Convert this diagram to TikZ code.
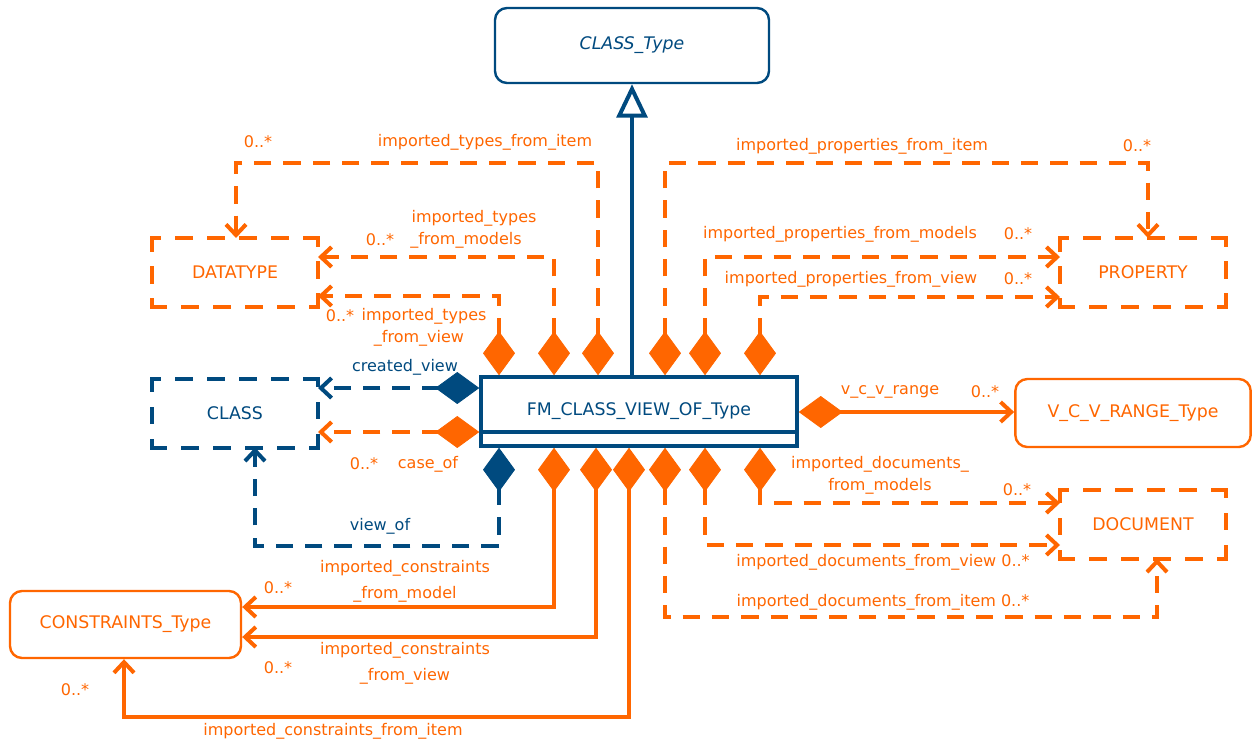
\documentclass[tikz,border=0pt]{standalone}
\usepackage{fontspec}
\setmainfont{DejaVu Sans}
\usetikzlibrary{arrows.meta}
\definecolor{umlorange}{RGB}{255,102,0}
\definecolor{umlblue}{RGB}{0,74,127}
\begin{document}
\begin{tikzpicture}[x=0.75pt,y=-0.75pt,
  font=\fontsize{12}{14}\selectfont,
  every node/.style={inner sep=0pt},
  boxfont/.style={font=\fontsize{13}{15}\selectfont},
  % boxes
  rbox/.style={boxfont, draw, rounded corners=9pt, line width=1.8pt},
  obox/.style={draw=umlorange, text=umlorange},
  bbox/.style={draw=umlblue, text=umlblue},
  dside/.style={line width=3pt, line cap=rect, dash pattern=on 10pt off 14pt, dash phase=5pt},
  dbox/.style={boxfont, text=#1, minimum width=124.5pt, minimum height=51.75pt, outer sep=0pt,
    append after command={
      (\tikzlastnode.north west) edge[dside, draw=#1] (\tikzlastnode.north east)
      (\tikzlastnode.north east) edge[dside, draw=#1] (\tikzlastnode.south east)
      (\tikzlastnode.south east) edge[dside, draw=#1] (\tikzlastnode.south west)
      (\tikzlastnode.south west) edge[dside, draw=#1] (\tikzlastnode.north west)}},
  % connectors
  oline/.style={draw=umlorange, line width=3pt},
  odash/.style={oline, dash pattern=on 13pt off 9pt},
  bline/.style={draw=umlblue, line width=3pt},
  bdash/.style={bline, dash pattern=on 13pt off 9pt},
  comp/.style={arrows={Diamond[length=33pt,width=24pt,line width=0.6pt,round]-Straight Barb[length=8pt,width=15pt]}},
  gen/.style={arrows={-Triangle[open,length=25pt,width=23pt]}},
  % labels
  olab/.style={text=umlorange},
  blab/.style={text=umlblue}
]
\fill[white] (0,0) rectangle (1252,742);
\useasboundingbox (0,0) rectangle (1252,742);

% classes
\node[rbox, bbox, minimum width=205.5pt, minimum height=56.25pt, font=\fontsize{13}{15}\selectfont\itshape]
  (ct) at (632,45.5) {CLASS\_Type};
\node[boxfont, draw=umlblue, text=umlblue, line width=3pt, minimum width=237pt, minimum height=51.75pt]
  (fm) at (639,411.5) {FM\_CLASS\_VIEW\_OF\_Type};
\draw[bline] (fm.west |- 0,432) -- (fm.east |- 0,432);

\node[dbox=umlorange] (dt)  at (235,272.5) {DATATYPE};
\node[dbox=umlorange] (pr)  at (1143,272.5) {PROPERTY};
\node[dbox=umlblue]   (cl)  at (235,413) {CLASS};
\node[dbox=umlorange] (doc) at (1143,524) {DOCUMENT};
\node[rbox, obox, minimum width=176.5pt, minimum height=51pt] (vr) at (1133,413) {V\_C\_V\_RANGE\_Type};
\node[rbox, obox, minimum width=173.25pt, minimum height=50.25pt] (cs) at (125.5,624.5) {CONSTRAINTS\_Type};

% generalisation
\draw[bline, gen] (ct.south |- fm.north) -- (ct.south);

% types
\draw[odash, comp] (598,0 |- fm.north) -- (598,163) -- (236,163) -- (236,0 |- dt.north);
\draw[odash, comp] (554,0 |- fm.north) -- (554,257) -- (dt.east |- 0,257);
\draw[odash, comp] (499,0 |- fm.north) -- (499,296) -- (dt.east |- 0,296);

% properties
\draw[odash, comp] (665,0 |- fm.north) -- (665,163) -- (1148,163) -- (1148,0 |- pr.north);
\draw[odash, comp] (705,0 |- fm.north) -- (705,257) -- (pr.west |- 0,257);
\draw[odash, comp] (760,0 |- fm.north) -- (760,297) -- (pr.west |- 0,297);

% class links
\draw[bdash, comp] (fm.west |- 0,388) -- (cl.east |- 0,388);
\draw[odash, comp] (fm.west |- 0,432) -- (cl.east |- 0,432);
\draw[bdash, comp] (499,0 |- fm.south) -- (499,546) -- (255,546) -- (255,0 |- cl.south);

% range
\draw[oline, comp] (fm.east |- 0,412) -- (vr.west |- 0,412);

% documents
\draw[odash, comp] (760,0 |- fm.south) -- (760,503) -- (doc.west |- 0,503);
\draw[odash, comp] (705,0 |- fm.south) -- (705,545) -- (doc.west |- 0,545);
\draw[odash, comp] (665,0 |- fm.south) -- (665,617) -- (1157,617) -- (1157,0 |- doc.south);

% constraints
\draw[oline, comp] (554,0 |- fm.south) -- (554,607) -- (cs.east |- 0,607);
\draw[oline, comp] (596,0 |- fm.south) -- (596,637) -- (cs.east |- 0,637);
\draw[oline, comp] (629,0 |- fm.south) -- (629,717) -- (124,717) -- (124,0 |- cs.south);

% labels
\node[olab] (m1) at (258,142) {0..*};
\node[olab] (t1) at (485,142) {imported\_types\_from\_item};
\node[olab] (t2) at (474,218) {imported\_types};
\node[olab] (m2) at (380,240) {0..*};
\node[olab] (t3) at (466,240) {\_from\_models};
\node[olab] (m3) at (340,316) {0..*};
\node[olab] (t4) at (424,316) {imported\_types};
\node[olab] (t5) at (419,338) {\_from\_view};

\node[olab] (p1) at (862,146) {imported\_properties\_from\_item};
\node[olab] (m4) at (1137,146) {0..*};
\node[olab] (p2) at (840,234) {imported\_properties\_from\_models};
\node[olab] (m5) at (1018,234) {0..*};
\node[olab] (p3) at (851,279) {imported\_properties\_from\_view};
\node[olab] (m6) at (1018,279) {0..*};

\node[blab] (c1) at (405,367) {created\_view};
\node[olab] (m7) at (364,464) {0..*};
\node[olab] (c2) at (428,464) {case\_of};
\node[blab] (c3) at (380,526) {view\_of};

\node[olab] (r1) at (890,392) {v\_c\_v\_range};
\node[olab] (m8) at (985,392) {0..*};

\node[olab] (d1) at (880,464) {imported\_documents\_};
\node[olab] (d2) at (880,486) {from\_models};
\node[olab] (m9) at (1017,490) {0..*};
\node[olab] (d3) at (883,562) {imported\_documents\_from\_view 0..*};
\node[olab] (d4) at (883,602) {imported\_documents\_from\_item 0..*};

\node[olab] (k1) at (405,568) {imported\_constraints};
\node[olab] (k2) at (405,594) {\_from\_model};
\node[olab] (m10) at (278,588) {0..*};
\node[olab] (k3) at (405,650) {imported\_constraints};
\node[olab] (k4) at (405,676) {\_from\_view};
\node[olab] (m11) at (278,668) {0..*};
\node[olab] (k5) at (333,731) {imported\_constraints\_from\_item};
\node[olab] (m12) at (75,690) {0..*};
\end{tikzpicture}
\end{document}
